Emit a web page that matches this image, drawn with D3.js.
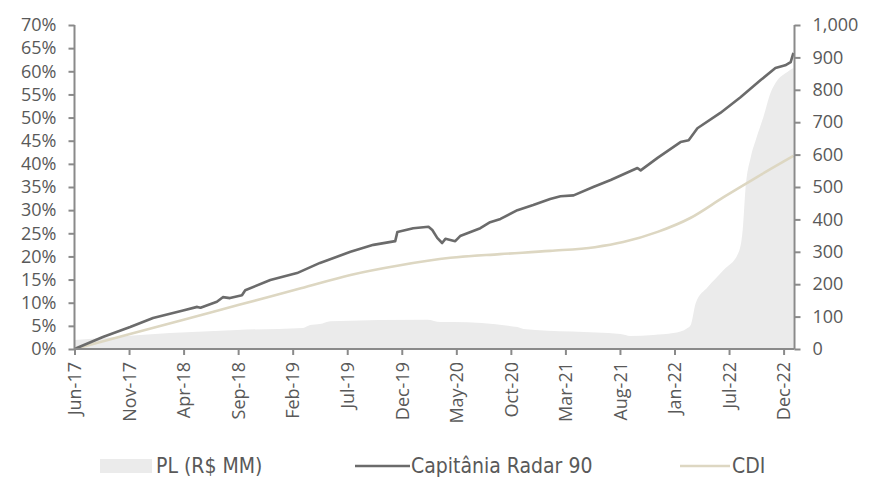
<!DOCTYPE html>
<html>
<head>
<meta charset="utf-8">
<script src="https://cdn.jsdelivr.net/npm/d3@7"></script>
<style>
  html, body { margin: 0; padding: 0; background: #fff; }
  svg { display: block; }
</style>
</head>
<body>
<svg id="chart" width="870" height="477"></svg>
<script>
// ---- DATA ----
// x position expressed in tick-interval units (0 = Jun-17 label, 13 = Dec-22 label)
const xTickLabels = ["Jun-17","Nov-17","Apr-18","Sep-18","Feb-19","Jul-19","Dec-19","May-20","Oct-20","Mar-21","Aug-21","Jan-22","Jul-22","Dec-22"];
const leftTicks = [0,5,10,15,20,25,30,35,40,45,50,55,60,65,70];
const rightTicks = [0,100,200,300,400,500,600,700,800,900,1000];

const radarT = [0,0.52,1.02,1.44,1.99,2.25,2.31,2.61,2.72,2.85,3.07,3.13,3.59,4.08,4.50,5.06,5.48,5.88,5.92,6.21,6.49,6.56,6.65,6.74,6.80,6.98,7.07,7.44,7.62,7.81,8.12,8.41,8.72,8.91,9.15,9.51,9.83,10.32,10.38,10.69,11.11,11.26,11.42,11.84,12.21,12.58,12.85,13.03,13.13,13.18];
const radarV = [0,2.6,4.75,6.7,8.3,9.1,8.9,10.2,11.2,11.0,11.6,12.7,14.9,16.4,18.6,21.0,22.5,23.3,25.3,26.1,26.4,25.7,24.0,22.9,23.8,23.3,24.4,26.1,27.4,28.1,30.0,31.1,32.4,33.0,33.2,35.0,36.5,39.1,38.6,41.3,44.7,45.1,47.7,51.0,54.4,58.1,60.7,61.3,62.0,64.0];

const cdiT = [0,1,2,3,4.15,5.06,5.97,6.89,7.8,8.72,9.54,10.06,10.69,11.29,11.9,12.52,13.18];
const cdiV = [0,3.2,6.3,9.5,13.1,16.0,18.1,19.7,20.5,21.2,22.0,23.1,25.3,28.3,32.8,37.2,41.7];

const plT = [0,0.52,1.75,2.98,4.19,4.32,4.50,4.69,6.47,6.71,6.94,8.12,8.23,10.01,10.19,10.61,10.98,11.24,11.30,11.39,11.61,11.90,12.17,12.25,12.30,12.40,12.49,12.63,12.76,12.89,13.07,13.18];
const plV = [28,34,49,59,65,74,77,86,90,83,83,68,62,46,40,43,49,65,75,142,191,244,296,367,491,593,645,716,790,830,855,867];

const legendItems = ["PL (R$ MM)", "Capitânia Radar 90", "CDI"];

// ---- CHART ----
const svg = d3.select("#chart");
const mLeft = 74.5, mRight = 794.5, mTop = 25, mBottom = 349;
const tickFont = "'Open Sans', sans-serif";
const txtColor = "#595959";
const axisColor = "#8a8a8a";

const x = d3.scaleLinear().domain([0, 13.2]).range([mLeft, mRight]);
const yL = d3.scaleLinear().domain([0, 70]).range([mBottom, mTop]);
const yR = d3.scaleLinear().domain([0, 1000]).range([mBottom, mTop]);

const zip = (a, b) => a.map((t, i) => [t, b[i]]);

// PL area
svg.append("path")
  .datum(zip(plT, plV))
  .attr("fill", "#ebebeb")
  .attr("d", d3.area().x(d => x(d[0])).y0(yR(0)).y1(d => yR(d[1])).curve(d3.curveMonotoneX));

// CDI
svg.append("path")
  .datum(zip(cdiT, cdiV))
  .attr("fill", "none").attr("stroke", "#ddd7c2").attr("stroke-width", 2.6)
  .attr("d", d3.line().x(d => x(d[0])).y(d => yL(d[1])).curve(d3.curveMonotoneX));

// Radar 90
svg.append("path")
  .datum(zip(radarT, radarV))
  .attr("fill", "none").attr("stroke", "#6b6b6b").attr("stroke-width", 2.6)
  .attr("stroke-linejoin", "round")
  .attr("d", d3.line().x(d => x(d[0])).y(d => yL(d[1])));

// Axes
const gL = svg.append("g").attr("transform", `translate(${mLeft},0)`)
  .call(d3.axisLeft(yL).tickValues(leftTicks).tickFormat(d => d + "%").tickSize(6).tickPadding(12));
const gR = svg.append("g").attr("transform", `translate(${mRight},0)`)
  .call(d3.axisRight(yR).tickValues(rightTicks).tickFormat(d3.format(",")).tickSize(6).tickPadding(12));
const gB = svg.append("g").attr("transform", `translate(0,${mBottom})`)
  .call(d3.axisBottom(x).tickValues(d3.range(xTickLabels.length)).tickFormat(i => xTickLabels[i]).tickSize(6).tickPadding(8));

[gL, gR, gB].forEach(g => {
  g.select(".domain").attr("stroke", axisColor).attr("stroke-width", 2);
  g.selectAll(".tick line").attr("stroke", axisColor).attr("stroke-width", 2);
  g.selectAll("text").attr("fill", txtColor).style("font-family", tickFont).style("font-size", "18px");
});
gL.select(".domain").attr("d", `M0,${mTop}V${mBottom}`);
gR.select(".domain").attr("d", `M0,${mTop}V${mBottom}`);
gB.select(".domain").attr("d", `M${mLeft},0H${mRight}`);

gB.selectAll(".tick text")
  .attr("text-anchor", "end")
  .attr("transform", "rotate(-90)")
  .attr("x", -13).attr("y", 0).attr("dy", "0.35em");

// Legend
const legFont = "'Liberation Sans Narrow', 'DejaVu Sans Condensed', sans-serif";
const leg = svg.append("g");
leg.append("rect").attr("x", 100).attr("y", 459).attr("width", 52).attr("height", 14).attr("fill", "#ebebeb");
leg.append("text").attr("x", 156).attr("y", 466).attr("dy", "0.35em").text(legendItems[0]);
leg.append("line").attr("x1", 355).attr("x2", 410).attr("y1", 466).attr("y2", 466).attr("stroke", "#6b6b6b").attr("stroke-width", 2.6);
leg.append("text").attr("x", 411).attr("y", 466).attr("dy", "0.35em").text(legendItems[1]);
leg.append("line").attr("x1", 680).attr("x2", 730).attr("y1", 466).attr("y2", 466).attr("stroke", "#ddd7c2").attr("stroke-width", 2.6);
leg.append("text").attr("x", 732).attr("y", 466).attr("dy", "0.35em").text(legendItems[2]);
leg.selectAll("text").attr("fill", txtColor).style("font-family", legFont).style("font-size", "21px");
</script>
</body>
</html>
